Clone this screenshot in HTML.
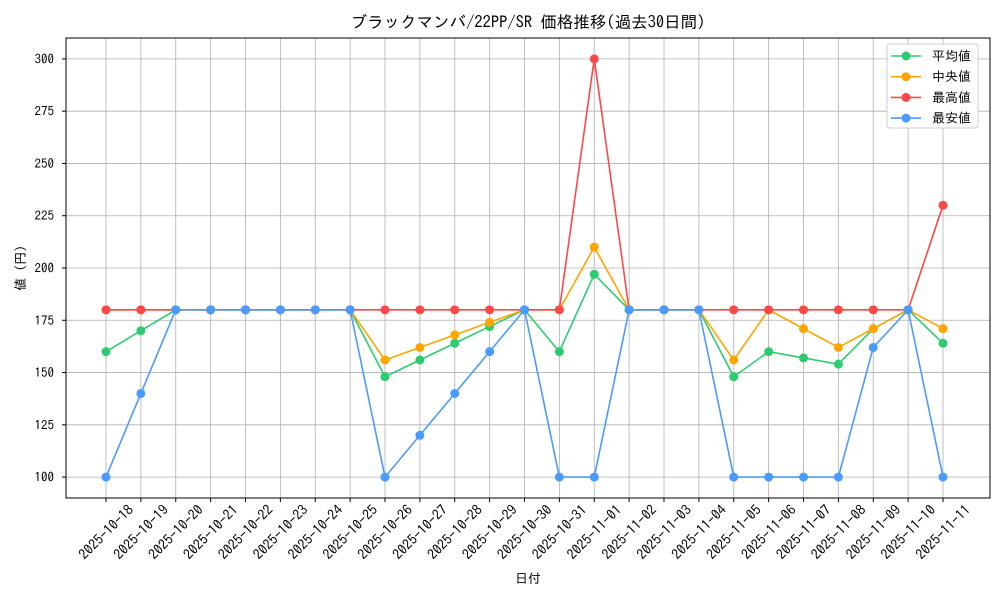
<!DOCTYPE html>
<html><head><meta charset="utf-8"><style>
body{margin:0;background:#fff;}
svg text{font-family:"IPAGothic","Noto Sans CJK JP",sans-serif;fill:#000;}
</style></head><body>
<svg id="c" width="1000" height="600" xmlns="http://www.w3.org/2000/svg"></svg>
<script>
const categories=["2025-10-18","2025-10-19","2025-10-20","2025-10-21","2025-10-22","2025-10-23","2025-10-24","2025-10-25","2025-10-26","2025-10-27","2025-10-28","2025-10-29","2025-10-30","2025-10-31","2025-11-01","2025-11-02","2025-11-03","2025-11-04","2025-11-05","2025-11-06","2025-11-07","2025-11-08","2025-11-09","2025-11-10","2025-11-11"];
const avgValues=[160,170,180,180,180,180,180,180,148,156,164,172,180,160,197,180,180,180,148,160,157,154,171,180,164];
const medianValues=[180,180,180,180,180,180,180,180,156,162,168,174,180,180,210,180,180,180,156,180,171,162,171,180,171];
const maxValues=[180,180,180,180,180,180,180,180,180,180,180,180,180,180,300,180,180,180,180,180,180,180,180,180,230];
const minValues=[100,140,180,180,180,180,180,180,100,120,140,160,180,100,100,180,180,180,100,100,100,100,162,180,100];
const yTicks=[100,125,150,175,200,225,250,275,300];
const seriesNames=["平均値","中央値","最高値","最安値"];
const NS="http://www.w3.org/2000/svg";
const svg=document.getElementById('c');
const L=66,R=990,T=38,B=498;
const n=categories.length;
const xs=i=>106+i*(943-106)/(n-1);
const ys=v=>B-(v-90)*(B-T)/220;
function el(tag,attrs,parent){const e=document.createElementNS(NS,tag);for(const k in attrs)e.setAttribute(k,attrs[k]);(parent||svg).appendChild(e);return e;}
const grid=el('g',{});


categories.forEach((c,i)=>{el('line',{x1:xs(i),x2:xs(i),y1:T,y2:B,stroke:'#b0b0b0','stroke-width':0.8},grid);});
yTicks.forEach(v=>{el('line',{x1:L,x2:R,y1:ys(v),y2:ys(v),stroke:'#b0b0b0','stroke-width':0.8},grid);});
const frame=el('rect',{x:L,y:T,width:R-L,height:B-T,fill:'none',stroke:'#000','stroke-width':1});


yTicks.forEach(v=>{el('line',{x1:L-4,x2:L,y1:ys(v),y2:ys(v),stroke:'#000'});
const t=el('text',{x:L-12,y:ys(v)+4.5,'text-anchor':'end','font-size':13});t.textContent=v;

});
categories.forEach((c,i)=>{el('line',{x1:xs(i),x2:xs(i),y1:B,y2:B+4,stroke:'#000'});
const x=xs(i),y=B+34;
const t=el('text',{x:x,y:y+5,'text-anchor':'middle','font-size':14,transform:`rotate(-45 ${x} ${y})`});t.textContent=c;

});
let t=el('text',{x:(L+R)/2,y:28,'text-anchor':'middle','font-size':16.5});t.textContent='ブラックマンバ/22PP/SR 価格推移(過去30日間)';


t=el('text',{x:(L+R)/2,y:583,'text-anchor':'middle','font-size':13});t.textContent='日付';


t=el('text',{x:25,y:268,'text-anchor':'middle','font-size':13,transform:'rotate(-90 25 268)'});t.textContent='値 (円)';


const colors=['#2ecc71','#ffa500','#ff4747','#4a9bff'];
const datas=[avgValues,medianValues,maxValues,minValues];
const snames=['series-average','series-median','series-max','series-min'];
datas.forEach((d,s)=>{const g=el('g',{});


el('polyline',{points:d.map((v,i)=>xs(i)+','+ys(v)).join(' '),fill:'none',stroke:colors[s],'stroke-width':1.6},g);
d.forEach((v,i)=>{const p=el('circle',{cx:xs(i),cy:ys(v),r:4.5,fill:colors[s]},g);

});});
const lg=el('g',{});


el('rect',{x:887,y:44,width:91,height:84,rx:3,fill:'#fff',stroke:'#ccc'},lg);
seriesNames.forEach((nm,s)=>{const y=56+s*20.7;
el('line',{x1:891,x2:921,y1:y,y2:y,stroke:colors[s],'stroke-width':1.6},lg);
el('circle',{cx:906,cy:y,r:4.5,fill:colors[s]},lg);
const tt=el('text',{x:932,y:y+4.5,'font-size':13},lg);tt.textContent=nm;

});
</script>
</body></html>
